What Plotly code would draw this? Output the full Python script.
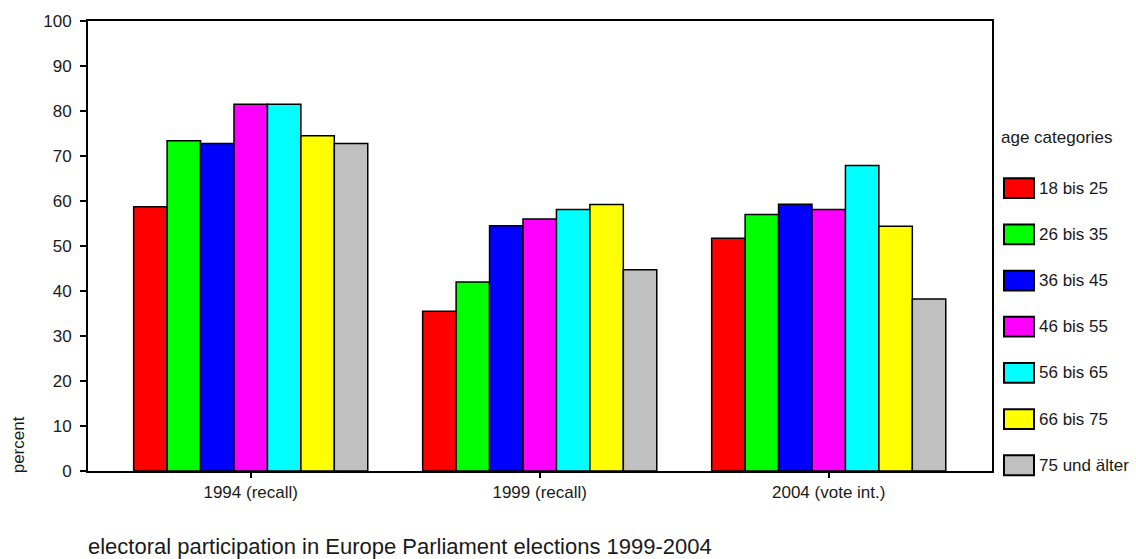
import plotly.graph_objects as go

# ---------------- data ----------------
categories = ["1994 (recall)", "1999 (recall)", "2004 (vote int.)"]
age_groups = ["18 bis 25", "26 bis 35", "36 bis 45", "46 bis 55",
              "56 bis 65", "66 bis 75", "75 und älter"]
v_18_25 = [58.7, 35.5, 51.7]
v_26_35 = [73.4, 42.0, 57.0]
v_36_45 = [72.8, 54.5, 59.3]
v_46_55 = [81.5, 56.0, 58.1]
v_56_65 = [81.5, 58.1, 67.9]
v_66_75 = [74.5, 59.2, 54.4]
v_75_up = [72.8, 44.7, 38.2]
series = [v_18_25, v_26_35, v_36_45, v_46_55, v_56_65, v_66_75, v_75_up]
colors = ["#FF0000", "#00FF00", "#0000FF", "#FF00FF",
          "#00FFFF", "#FFFF00", "#C0C0C0"]
y_ticks = [0, 10, 20, 30, 40, 50, 60, 70, 80, 90, 100]

legend_title = "age categories"
y_title = "percent"
chart_title = "electoral participation in Europe Parliament elections 1999-2004"

# ---------------- layout geometry ----------------
W, H = 1136, 559
L, R, T, B = 88, 144, 16, 88
plot_w = W - L - R
plot_h = H - T - B
FONT = "Liberation Sans, Arial, sans-serif"
TXT = "#1a1a1a"
FS = 17


def px_x(px):
    return (px - L) / plot_w


def px_y(py):
    return (H - B - py) / plot_h


fig = go.Figure()
for name, vals, col in zip(age_groups, series, colors):
    fig.add_trace(go.Bar(
        x=categories, y=vals, name=name,
        marker=dict(color=col, line=dict(color="black", width=1.5)),
        showlegend=False,
    ))

shapes = []
annotations = []

# manual legend (large swatches like the reference)
annotations.append(dict(
    text=legend_title, xref="paper", yref="paper",
    x=px_x(999), y=px_y(134), xanchor="left", yanchor="middle",
    showarrow=False, font=dict(family=FONT, size=FS, color=TXT)))
item_y0 = 185
item_dy = 46.7
for i, (name, col) in enumerate(zip(age_groups, colors)):
    cy = item_y0 + i * item_dy
    shapes.append(dict(
        type="rect", xref="paper", yref="paper",
        x0=px_x(1004), x1=px_x(1034), y0=px_y(cy + 10), y1=px_y(cy - 10),
        fillcolor=col, line=dict(color="black", width=2)))
    annotations.append(dict(
        text=name, xref="paper", yref="paper",
        x=px_x(1037), y=px_y(cy), xanchor="left", yanchor="middle",
        showarrow=False, font=dict(family=FONT, size=FS, color=TXT)))

# y axis title placed low, as in the reference
annotations.append(dict(
    text=y_title, xref="paper", yref="paper",
    x=px_x(18), y=px_y(445), xanchor="center", yanchor="middle",
    textangle=-90, showarrow=False,
    font=dict(family=FONT, size=FS, color=TXT)))

# chart caption at the bottom
annotations.append(dict(
    text=chart_title, xref="paper", yref="paper",
    x=px_x(86), y=px_y(547), xanchor="left", yanchor="middle",
    showarrow=False, font=dict(family=FONT, size=22, color=TXT)))

fig.update_layout(
    width=W, height=H,
    margin=dict(l=L, r=R, t=T, b=B, pad=0),
    paper_bgcolor="white", plot_bgcolor="white",
    barmode="group", bargap=0.19, bargroupgap=0,
    font=dict(family=FONT, size=FS, color=TXT),
    shapes=shapes, annotations=annotations,
    showlegend=False,
)
fig.update_xaxes(
    type="category", range=[-0.563, 2.565],
    showline=True, linecolor="black", linewidth=2, mirror=True,
    ticks="outside", ticklen=5, tickwidth=2, tickcolor="black",
    showgrid=False, zeroline=False,
    tickfont=dict(family=FONT, size=FS, color=TXT),
)
fig.update_yaxes(
    range=[0, 100], tickvals=y_ticks,
    showline=True, linecolor="black", linewidth=2, mirror=True,
    ticks="outside", ticklen=6, tickwidth=2, tickcolor="black",
    showgrid=False, zeroline=False,
    tickfont=dict(family=FONT, size=FS, color=TXT),
    ticklabelstandoff=5,
)

fig.write_html("out.html")
